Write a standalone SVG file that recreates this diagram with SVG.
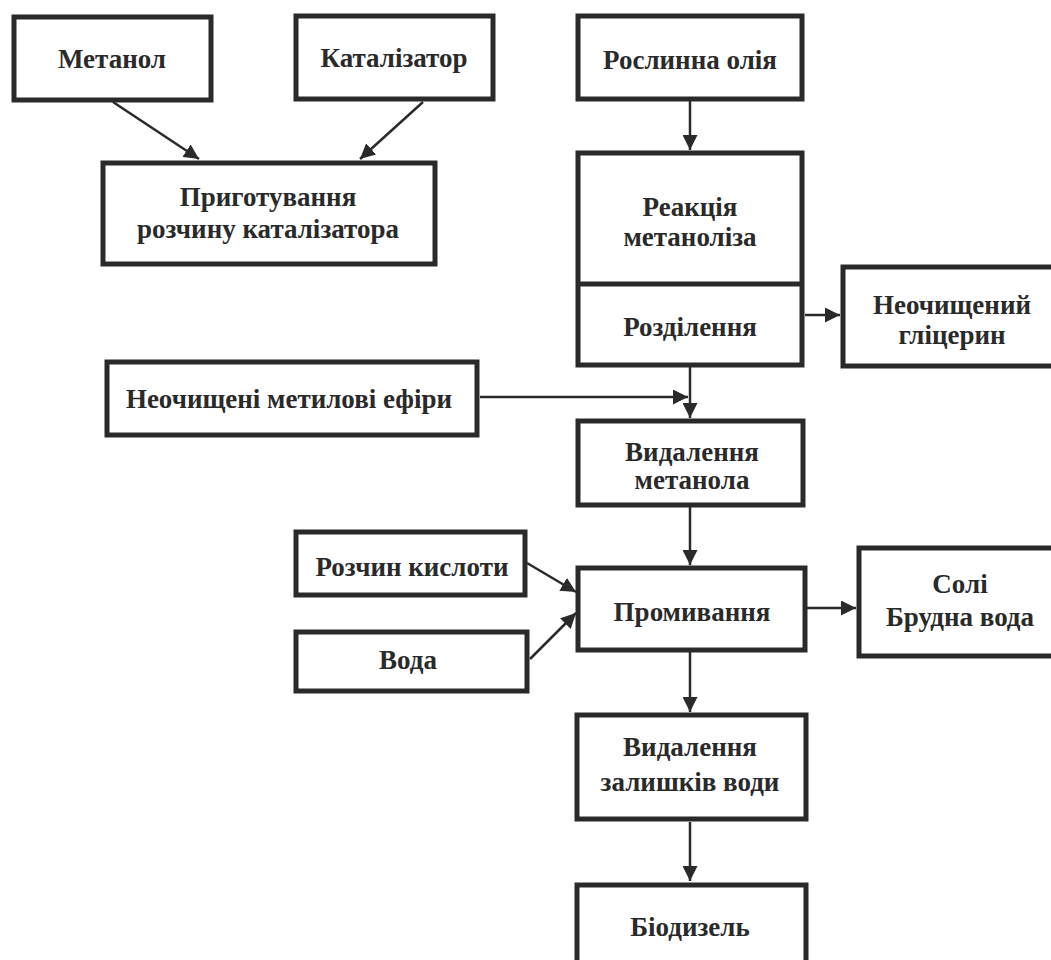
<svg xmlns="http://www.w3.org/2000/svg" width="1051" height="960" viewBox="0 0 1051 960">
<defs>
<marker id="ah" viewBox="0 0 10 10" refX="10" refY="5" markerWidth="6" markerHeight="6" orient="auto" markerUnits="strokeWidth">
<path d="M0,0 L10,5 L0,10 z" fill="#2a2a2a"/>
</marker>
</defs>
<style>
.box{fill:#fff;stroke:#2a2a2a;stroke-width:5}
.t{font-family:"Liberation Serif","Times New Roman",serif;font-size:27px;font-weight:bold;fill:#2a2a2a;text-anchor:middle}
.c{stroke:#2a2a2a;stroke-width:2.5;fill:none;marker-end:url(#ah)}
</style>
<rect width="1051" height="960" fill="#fff"/>
<g id="connectors">
<line class="c" x1="113" y1="102" x2="199" y2="159"/>
<line class="c" x1="423" y1="102" x2="360" y2="159"/>
<line class="c" x1="690" y1="101" x2="690" y2="150"/>
<line class="c" x1="805" y1="315" x2="840" y2="315"/>
<line x1="690" y1="367" x2="690" y2="380" stroke="#2a2a2a" stroke-width="2.5"/>
<line class="c" x1="690" y1="380" x2="690" y2="418"/>
<line class="c" x1="480" y1="397" x2="688" y2="397"/>
<line class="c" x1="690" y1="507" x2="690" y2="565"/>
<line class="c" x1="527" y1="563" x2="576" y2="592"/>
<line class="c" x1="530" y1="659" x2="576" y2="613"/>
<line class="c" x1="807" y1="608" x2="856" y2="608"/>
<line class="c" x1="690" y1="652" x2="690" y2="712"/>
<line class="c" x1="690" y1="822" x2="690" y2="881"/>
</g>
<g id="metanol">
<rect class="box" x="14" y="17" width="197" height="83"/>
<text class="t" x="112" y="68">Метанол</text>
</g>
<g id="katalizator">
<rect class="box" x="296" y="16" width="197" height="83"/>
<text class="t" x="394" y="67">Каталізатор</text>
</g>
<g id="pryhotuvannia">
<rect class="box" x="103" y="163" width="332" height="101"/>
<text class="t" x="268" y="206">Приготування</text>
<text class="t" x="268" y="238">розчину каталізатора</text>
</g>
<g id="roslynna">
<rect class="box" x="578" y="16" width="224" height="83"/>
<text class="t" x="690" y="69">Рослинна олія</text>
</g>
<g id="reaktsiia">
<rect class="box" x="578" y="153" width="224" height="212"/>
<line x1="578" y1="284" x2="802" y2="284" stroke="#2a2a2a" stroke-width="5"/>
<text class="t" x="690" y="216">Реакція</text>
<text class="t" x="690" y="246">метаноліза</text>
<text class="t" x="690" y="336">Розділення</text>
</g>
<g id="hlitseryn">
<rect class="box" x="843" y="267" width="215" height="99"/>
<text class="t" x="952" y="314">Неочищений</text>
<text class="t" x="952" y="344">гліцерин</text>
</g>
<g id="efiry">
<rect class="box" x="107" y="362" width="370" height="73"/>
<text class="t" x="289" y="408">Неочищені метилові ефіри</text>
</g>
<g id="vydalennia-metanolu">
<rect class="box" x="578" y="421" width="225" height="84"/>
<text class="t" x="692" y="461">Видалення</text>
<text class="t" x="692" y="489">метанола</text>
</g>
<g id="rozchyn">
<rect class="box" x="296" y="532" width="229" height="63"/>
<text class="t" x="412" y="576">Розчин кислоти</text>
</g>
<g id="voda">
<rect class="box" x="296" y="632" width="231" height="59"/>
<text class="t" x="408" y="669">Вода</text>
</g>
<g id="promyvannia">
<rect class="box" x="578" y="568" width="227" height="82"/>
<text class="t" x="692" y="621">Промивання</text>
</g>
<g id="soli">
<rect class="box" x="859" y="548" width="200" height="108"/>
<text class="t" x="960" y="593">Солі</text>
<text class="t" x="960" y="626">Брудна вода</text>
</g>
<g id="vydalennia-vody">
<rect class="box" x="577" y="715" width="229" height="104"/>
<text class="t" x="690" y="756">Видалення</text>
<text class="t" x="690" y="791">залишків води</text>
</g>
<g id="biodyzel">
<rect class="box" x="577" y="885" width="229" height="90"/>
<text class="t" x="690" y="936">Біодизель</text>
</g>
</svg>
